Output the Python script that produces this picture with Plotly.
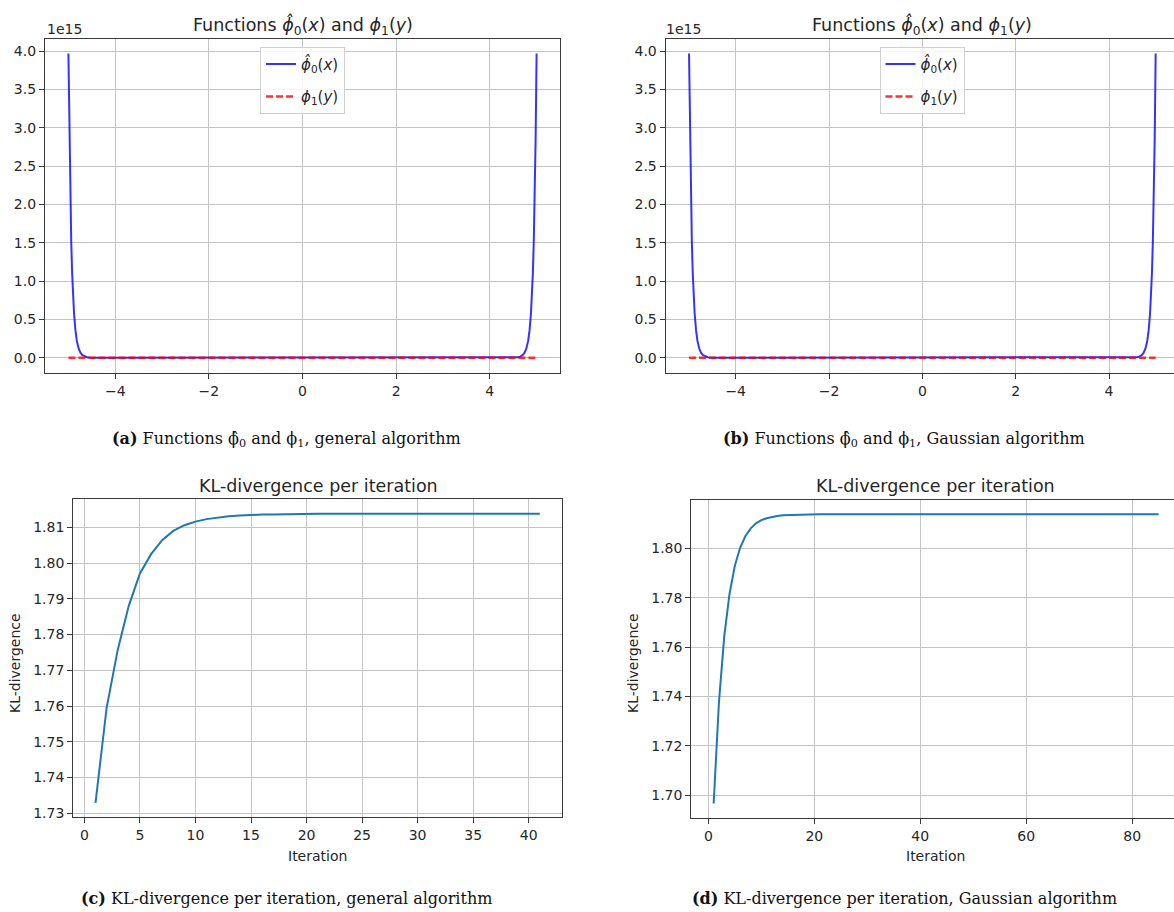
import plotly.graph_objects as go

W, H = 1174, 912

# ---------------- data ----------------
# panels (a)/(b): phi0_hat(x) in units of 1e15, phi1(y) ~ 0
phi_x = [-5.00, -4.98, -4.96, -4.94, -4.92, -4.90, -4.88, -4.85, -4.82, -4.78,
         -4.74, -4.70, -4.65, -4.60, -4.55, -4.50, -4.00, -2.00, 0.00, 2.00,
         4.00, 4.50, 4.55, 4.60, 4.65, 4.70, 4.74, 4.78, 4.82, 4.85,
         4.88, 4.90, 4.92, 4.94, 4.96, 4.98, 5.00]
phi0_vals = [3.97, 2.88, 2.09, 1.52, 1.10, 0.80, 0.58, 0.36, 0.22, 0.117,
             0.062, 0.033, 0.015, 0.007, 0.003, 0.001, 0.0, 0.0, 0.0, 0.0,
             0.0, 0.001, 0.003, 0.007, 0.015, 0.033, 0.062, 0.117, 0.22, 0.36,
             0.58, 0.80, 1.10, 1.52, 2.09, 2.88, 3.97]
phi1_x = [-5.0, -2.5, 0.0, 2.5, 5.0]
phi1_vals = [0.0, 0.0, 0.0, 0.0, 0.0]
phi_yticks = [0.0, 0.5, 1.0, 1.5, 2.0, 2.5, 3.0, 3.5, 4.0]
phi_xticks = [-4, -2, 0, 2, 4]
SCALE = 1e15

# panel (c): general algorithm
kl_general_iter = list(range(1, 42))
kl_general = [1.7329, 1.7595, 1.7757, 1.7881, 1.7971, 1.8025, 1.8064, 1.8090, 1.8106, 1.8116,
              1.8123, 1.8128, 1.8131, 1.8133, 1.8135, 1.8136, 1.8136, 1.8137, 1.8137, 1.8137,
              1.8138, 1.8138, 1.8138, 1.8138, 1.8138, 1.8138, 1.8138, 1.8138, 1.8138, 1.8138,
              1.8138, 1.8138, 1.8138, 1.8138, 1.8138, 1.8138, 1.8138, 1.8138, 1.8138, 1.8138,
              1.8138]
kl_general_xticks = [0, 5, 10, 15, 20, 25, 30, 35, 40]
kl_general_yticks = [1.73, 1.74, 1.75, 1.76, 1.77, 1.78, 1.79, 1.80, 1.81]

# panel (d): Gaussian algorithm
kl_gauss_iter = list(range(1, 86))
kl_gauss = [1.6966, 1.7376, 1.7643, 1.7816, 1.7929, 1.8002, 1.8050, 1.8081, 1.8101, 1.8114,
            1.8122, 1.8128, 1.8131, 1.8134, 1.8135, 1.8136, 1.8137, 1.8138, 1.8138, 1.8138,
            1.8138, 1.8138, 1.8138, 1.8138, 1.8138, 1.8138, 1.8138, 1.8138, 1.8138, 1.8138,
            1.8138, 1.8138, 1.8138, 1.8138, 1.8138, 1.8138, 1.8138, 1.8138, 1.8138, 1.8138,
            1.8138, 1.8138, 1.8138, 1.8138, 1.8138, 1.8138, 1.8138, 1.8138, 1.8138, 1.8138,
            1.8138, 1.8138, 1.8138, 1.8138, 1.8138, 1.8138, 1.8138, 1.8138, 1.8138, 1.8138,
            1.8138, 1.8138, 1.8138, 1.8138, 1.8138, 1.8138, 1.8138, 1.8138, 1.8138, 1.8138,
            1.8138, 1.8138, 1.8138, 1.8138, 1.8138, 1.8138, 1.8138, 1.8138, 1.8138, 1.8138,
            1.8138, 1.8138, 1.8138, 1.8138, 1.8138]
kl_gauss_xticks = [0, 20, 40, 60, 80]
kl_gauss_yticks = [1.70, 1.72, 1.74, 1.76, 1.78, 1.80]

# ---------------- text ----------------
phi_title = "Functions <i>ϕ̂</i><sub>0</sub>(<i>x</i>) and <i>ϕ</i><sub>1</sub>(<i>y</i>)"
phi0_name = "<i>ϕ̂</i><sub>0</sub>(<i>x</i>)"
phi1_name = "<i>ϕ</i><sub>1</sub>(<i>y</i>)"
kl_title = "KL-divergence per iteration"
captions = [
    "<b>(a)</b> Functions ϕ̂<sub>0</sub> and ϕ<sub>1</sub>, general algorithm",
    "<b>(b)</b> Functions ϕ̂<sub>0</sub> and ϕ<sub>1</sub>, Gaussian algorithm",
    "<b>(c)</b> KL-divergence per iteration, general algorithm",
    "<b>(d)</b> KL-divergence per iteration, Gaussian algorithm",
]

# ---------------- style ----------------
SANS = "DejaVu Sans"
SERIF = "DejaVu Serif"
TXT = "#262626"
SPINE = "#3a3a3a"
GRID = "#c4c4c4"
BLUE = "rgba(0,0,255,0.8)"
RED = "rgba(255,0,0,0.8)"
KLC = "#1f77b4"


def px(x):
    return x / W


def py(y):
    return 1 - y / H


def axis(domain, rng, tickvals, ticktext=None, mirror=True, fmt=None, anchor=None):
    d = dict(domain=domain, range=rng, tickmode="array", tickvals=tickvals,
             showgrid=True, gridcolor=GRID, gridwidth=1, zeroline=False,
             showline=True, linecolor=SPINE, linewidth=1.3, mirror=mirror,
             ticks="outside", ticklen=5, tickwidth=1.1, tickcolor=SPINE,
             tickfont=dict(family=SANS, size=14, color=TXT), anchor=anchor,
             automargin=False, fixedrange=True)
    if ticktext is not None:
        d["ticktext"] = ticktext
    if fmt is not None:
        d["tickformat"] = fmt
    return d


fig = go.Figure()

phi0_y = [v * SCALE for v in phi0_vals]
phi1_y = [v * SCALE for v in phi1_vals]

for k, (xa, ya, leg) in enumerate([("x", "y", "legend"), ("x2", "y2", "legend2")]):
    fig.add_trace(go.Scatter(x=phi_x, y=phi0_y, mode="lines", name=phi0_name,
                             line=dict(color=BLUE, width=2), xaxis=xa, yaxis=ya,
                             legend=leg, legendgroup="g0_%d" % k))
    fig.add_trace(go.Scatter(x=phi1_x, y=phi1_y, mode="lines", name=phi1_name,
                             line=dict(color=RED, width=2.5, dash="7px,3px"), xaxis=xa, yaxis=ya,
                             legend=leg, legendgroup="g1_%d" % k))

fig.add_trace(go.Scatter(x=kl_general_iter, y=kl_general, mode="lines", showlegend=False,
                         line=dict(color=KLC, width=2), xaxis="x3", yaxis="y3"))
fig.add_trace(go.Scatter(x=kl_gauss_iter, y=kl_gauss, mode="lines", showlegend=False,
                         line=dict(color=KLC, width=2), xaxis="x4", yaxis="y4"))

phi_tickvals = [t * SCALE for t in phi_yticks]
phi_ticktext = ["%.1f" % t for t in phi_yticks]

ya_dom = [py(373), py(38.7)]
yc_dom = [py(817.3), py(499.3)]
yd_dom = [py(818), py(499.7)]

legend_common = dict(bgcolor="rgba(255,255,255,0.85)", bordercolor="#d0d0d0", borderwidth=1,
                     font=dict(family=SANS, size=15, color=TXT), xanchor="center", yanchor="top",
                     traceorder="grouped", tracegroupgap=10, itemwidth=30)

fig.update_layout(
    width=W, height=H, autosize=False,
    margin=dict(l=0, r=0, t=0, b=0, pad=0),
    paper_bgcolor="white", plot_bgcolor="white",
    font=dict(family=SANS, size=14, color=TXT),
    xaxis=axis([px(45), px(560)], [-5.5, 5.5], phi_xticks, anchor="y"),
    yaxis=axis(ya_dom, [-0.199 * SCALE, 4.163 * SCALE], phi_tickvals, phi_ticktext, anchor="x"),
    xaxis2=axis([px(665.7), 1.0], [-5.5, 5.393], phi_xticks, anchor="y2"),
    yaxis2=axis(ya_dom, [-0.199 * SCALE, 4.163 * SCALE], phi_tickvals, phi_ticktext, mirror=False, anchor="x2"),
    xaxis3=axis([px(73.3), px(562)], [-1, 43], kl_general_xticks, anchor="y3"),
    yaxis3=axis(yc_dom, [1.72885, 1.81785], kl_general_yticks, fmt=".2f", anchor="x3"),
    xaxis4=axis([px(691.4), 1.0], [-3.2, 87.9], kl_gauss_xticks, anchor="y4"),
    yaxis4=axis(yd_dom, [1.6907, 1.8197], kl_gauss_yticks, fmt=".2f", mirror=False, anchor="x4"),
    legend=dict(x=px(302.5), y=py(46.7), **legend_common),
    legend2=dict(x=px(922), y=py(46.7), **legend_common),
    showlegend=True,
)

ann = []
# titles
for cx, cy, t in [(302.5, 25, phi_title), (922, 25, phi_title), (318, 486, kl_title), (935.7, 486, kl_title)]:
    ann.append(dict(x=px(cx), y=py(cy), xref="paper", yref="paper", text=t, showarrow=False,
                    xanchor="center", yanchor="middle", font=dict(family=SANS, size=17.5, color=TXT)))
# offset text
for lx in [45, 664]:
    ann.append(dict(x=px(lx), y=py(29), xref="paper", yref="paper", text="1e15", showarrow=False,
                    xanchor="left", yanchor="middle", font=dict(family=SANS, size=14, color=TXT)))
# axis labels
for cx in [317.5, 935.7]:
    ann.append(dict(x=px(cx), y=py(856), xref="paper", yref="paper", text="Iteration", showarrow=False,
                    xanchor="center", yanchor="middle", font=dict(family=SANS, size=14, color=TXT)))
for cx in [15, 633]:
    ann.append(dict(x=px(cx), y=py(663), xref="paper", yref="paper", text="KL-divergence", showarrow=False,
                    textangle=-90, xanchor="center", yanchor="middle", font=dict(family=SANS, size=14, color=TXT)))
# captions
for (cx, cy), t in zip([(286, 439), (904, 439), (286, 898), (904, 898)], captions):
    ann.append(dict(x=px(cx), y=py(cy), xref="paper", yref="paper", text=t, showarrow=False,
                    xanchor="center", yanchor="middle", font=dict(family=SERIF, size=16, color="#111111")))
fig.update_layout(annotations=ann)

fig.write_html(
    "out.html",
    config={"displayModeBar": False},
    post_script="document.body.style.margin='0';document.body.style.padding='0';"
                "document.documentElement.style.margin='0';document.body.style.overflow='hidden';",
)
